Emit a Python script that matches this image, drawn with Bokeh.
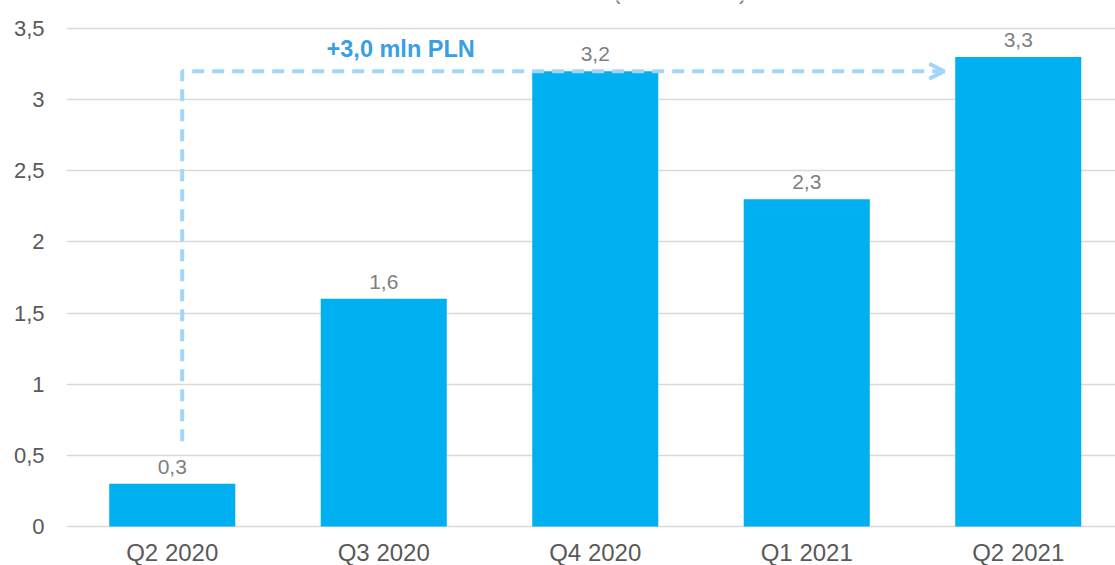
from bokeh.plotting import figure
from bokeh.models import ColumnDataSource, FixedTicker, Label, LabelSet, Arrow, OpenHead
from bokeh.core.properties import value
from bokeh.embed import file_html
from bokeh.resources import INLINE

categories = ["Q2 2020", "Q3 2020", "Q4 2020", "Q1 2021", "Q2 2021"]
values = [0.3, 1.6, 3.2, 2.3, 3.3]
y_ticks = [0, 0.5, 1, 1.5, 2, 2.5, 3, 3.5]
annotation_text = "+3,0 mln PLN"
title_text = "(w mln PLN)"

BAR_W = 0.596
FONT = "Liberation Sans"
PX_PER_UNIT = 142.3   # vertical scale of the reference
TOP_PAD = 28          # px between canvas top and the 3,5 gridline
H = 565

def fmt(v):
    s = f"{v:.1f}" if v != int(v) else f"{int(v)}"
    return s.replace(".", ",")

xs = list(range(len(categories)))
src = ColumnDataSource(dict(x=xs, top=values, zero=[0] * len(xs),
                            label=[fmt(v) for v in values], cat=categories))

y_end = y_ticks[-1] + TOP_PAD / PX_PER_UNIT
y_start = y_end - H / PX_PER_UNIT

p = figure(width=1115, height=H, output_backend="svg", toolbar_location=None,
           x_range=(-0.5, -0.5 + (1115 - 66) / 211.5), y_range=(y_start, y_end),
           min_border_left=66, min_border_right=0, min_border_top=0, min_border_bottom=0)
p.outline_line_color = None
p.background_fill_color = "white"
p.border_fill_color = "white"

p.vbar(x="x", top="top", width=BAR_W, bottom=0, source=src, fill_color="#00B0F0", line_color=None)

# data labels
p.add_layout(LabelSet(x="x", y="top", text="label", source=src, text_align="center",
                      text_baseline="alphabetic", y_offset=10, text_font=value(FONT),
                      text_font_size="21px", text_color="#7F7F7F"))

# category labels
p.add_layout(LabelSet(x="x", y="zero", text="cat", source=src, text_align="center",
                      text_baseline="alphabetic", y_offset=-34, text_font=value(FONT),
                      text_font_size="24px", text_color="#595959"))

# grid
p.xgrid.visible = False
p.ygrid.ticker = FixedTicker(ticks=y_ticks)
p.ygrid.grid_line_color = "#D9D9D9"
p.ygrid.grid_line_width = 1.5
p.ygrid.level = "underlay"

# y axis
p.yaxis.ticker = FixedTicker(ticks=y_ticks)
p.yaxis.major_label_overrides = {t: fmt(t) for t in y_ticks}
p.yaxis.axis_line_color = None
p.yaxis.major_tick_line_color = None
p.yaxis.minor_tick_line_color = None
p.yaxis.major_tick_out = 0
p.yaxis.major_tick_in = 0
p.yaxis.major_label_standoff = 22
p.yaxis.major_label_text_font = FONT
p.yaxis.major_label_text_font_size = "22px"
p.yaxis.major_label_text_color = "#595959"

p.xaxis.visible = False

# growth arrow
ARROW_COLOR = "#A3D5FA"
x0 = xs[0] + 0.047
y0 = values[0] * 2
ylev = values[2]
x1 = xs[-1] - BAR_W / 2 - 0.052
p.line(x=[x0, x0, x1 - 0.02], y=[y0, ylev, ylev], line_color=ARROW_COLOR, line_width=4,
       line_dash="12 8")
p.add_layout(Arrow(end=OpenHead(line_color=ARROW_COLOR, line_width=4, size=15),
                   x_start=x1 - 0.1, y_start=ylev, x_end=x1, y_end=ylev,
                   line_alpha=0))
p.add_layout(Label(x=(xs[0] + xs[2]) / 2 + 0.08, y=ylev, y_offset=22, text=annotation_text,
                   text_align="center", text_baseline="alphabetic",
                   text_font=FONT, text_font_size="23.5px", text_font_style="bold",
                   text_color="#3A9FE0"))

# clipped title (only its lowest part is visible at the top edge)
p.add_layout(Label(x=(xs[2] + xs[3]) / 2 - 0.10, y=y_ticks[-1], y_offset=38, text=title_text,
                   text_align="center", text_baseline="alphabetic",
                   text_font=FONT, text_font_size="24.5px", text_color="#7F7F7F"))

open("out.html", "w").write(file_html(p, INLINE))
